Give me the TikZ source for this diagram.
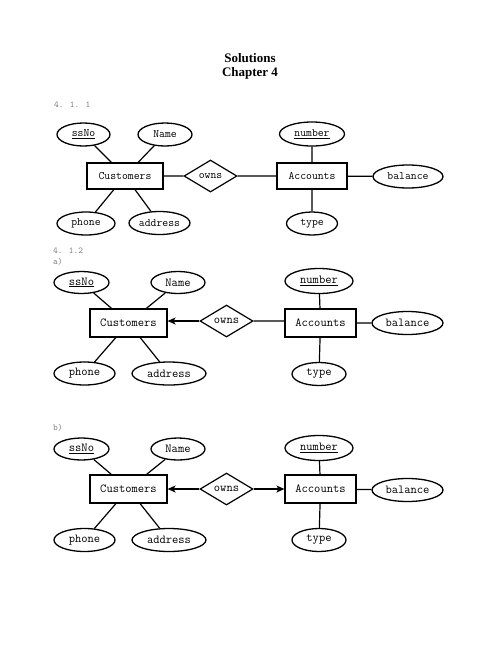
\documentclass[tikz,border=0pt]{standalone}
\usepackage{fontspec}
\setmainfont{Liberation Serif}
\usetikzlibrary{shapes.geometric,arrows.meta}

\tikzset{
  entity/.style={draw, line width=1.2pt, minimum height=26pt, inner sep=0pt},
  attr/.style={draw, ellipse, line width=1.3pt, minimum height=23pt, inner sep=0pt},
  rel/.style={draw, diamond, line width=1.2pt, minimum width=53pt, minimum height=32pt, inner sep=0pt},
  partno/.style={font=\ttfamily\fontsize{9}{10}\selectfont, text=gray, anchor=west, inner sep=0pt},
  link/.style={line width=1.2pt},
  card/.style={link, -{Stealth[length=8pt,width=7pt,inset=2pt]}}
}

\begin{document}
\begin{tikzpicture}[x=1pt,y=-1pt]
\useasboundingbox (0,0) rectangle (502,649);
\node[font=\bfseries\fontsize{13}{15}\selectfont] (title) at (250,58) {Solutions};
\node[font=\bfseries\fontsize{13}{15}\selectfont] (chapter) at (250,73.5) {Chapter 4};

% 4.1.1
\node[partno] (part1) at (54,105) {4. 1. 1};
\begin{scope}[font=\ttfamily\fontsize{11.4}{13}\selectfont]
\node[entity, minimum width=76pt] (cust1) at (125,176) {Customers};
\node[rel] (owns1) at (210.5,176) {owns};
\node[entity, minimum width=70pt] (acct1) at (312,176) {Accounts};
\node[attr, minimum width=53pt] (ssNo1) at (83.5,134.5) {\underline{ssNo}};
\node[attr, minimum width=54pt] (name1) at (165,134.5) {Name};
\node[attr, minimum width=58pt] (phone1) at (86,223.5) {phone};
\node[attr, minimum width=61pt] (addr1) at (159.5,223) {address};
\node[attr, minimum width=65pt, minimum height=24pt] (num1) at (312,134) {\underline{number}};
\node[attr, minimum width=70pt] (bal1) at (408,176.5) {balance};
\node[attr, minimum width=51pt] (type1) at (312,223.5) {type};
\draw[link] (ssNo1) -- (cust1) (name1) -- (cust1)
  (phone1) -- (cust1) (addr1) -- (cust1)
  (cust1) -- (owns1) (owns1) -- (acct1)
  (num1) -- (acct1) (type1) -- (acct1) (bal1) -- (acct1);
\end{scope}

% 4.1.2 a)
\node[partno] (part2) at (53,251) {4. 1.2};
\node[partno] (parta) at (53,262) {a)};
\begin{scope}[font=\ttfamily\fontsize{12.2}{14}\selectfont]
\node[entity, minimum width=77pt, minimum height=28pt] (cust2) at (128.5,323) {Customers};
\node[rel] (owns2) at (226.5,321) {owns};
\node[entity, minimum width=71pt, minimum height=28pt] (acct2) at (320.5,323) {Accounts};
\node[attr, minimum width=55pt, minimum height=22pt] (ssNo2) at (81.5,282.5) {\underline{ssNo}};
\node[attr, minimum width=54pt, minimum height=22pt] (name2) at (178,282.5) {Name};
\node[attr, minimum width=61pt] (phone2) at (84.5,373.5) {phone};
\node[attr, minimum width=74pt] (addr2) at (169,373.5) {address};
\node[attr, minimum width=68pt, minimum height=25pt] (num2) at (319,281) {\underline{number}};
\node[attr, minimum width=71pt] (bal2) at (407.5,323) {balance};
\node[attr, minimum width=54pt] (type2) at (319,374) {type};
\draw[link] (ssNo2) -- (cust2) (name2) -- (cust2)
  (phone2) -- (cust2) (addr2) -- (cust2)
  (owns2.east) -- (owns2.east -| acct2.west)
  (num2) -- (acct2) (type2) -- (acct2) (bal2) -- (acct2);
\draw[card] (owns2.west) -- (owns2.west -| cust2.east);
\end{scope}

% b)
\node[partno] (partb) at (53,428) {b)};
\begin{scope}[font=\ttfamily\fontsize{12.2}{14}\selectfont]
\node[entity, minimum width=77pt, minimum height=28pt] (cust3) at (128.5,489) {Customers};
\node[rel] (owns3) at (226.5,489) {owns};
\node[entity, minimum width=71pt, minimum height=28pt] (acct3) at (320.5,489) {Accounts};
\node[attr, minimum width=55pt, minimum height=22pt] (ssNo3) at (81.5,449) {\underline{ssNo}};
\node[attr, minimum width=54pt, minimum height=22pt] (name3) at (178,449) {Name};
\node[attr, minimum width=61pt] (phone3) at (84.5,540) {phone};
\node[attr, minimum width=74pt] (addr3) at (169,540) {address};
\node[attr, minimum width=68pt, minimum height=25pt] (num3) at (319,448) {\underline{number}};
\node[attr, minimum width=71pt] (bal3) at (407.5,490) {balance};
\node[attr, minimum width=54pt] (type3) at (319,540) {type};
\draw[link] (ssNo3) -- (cust3) (name3) -- (cust3)
  (phone3) -- (cust3) (addr3) -- (cust3)
  (num3) -- (acct3) (type3) -- (acct3) (bal3) -- (acct3);
\draw[card] (owns3.west) -- (owns3.west -| cust3.east);
\draw[card] (owns3.east) -- (owns3.east -| acct3.west);
\end{scope}
\end{tikzpicture}
\end{document}
